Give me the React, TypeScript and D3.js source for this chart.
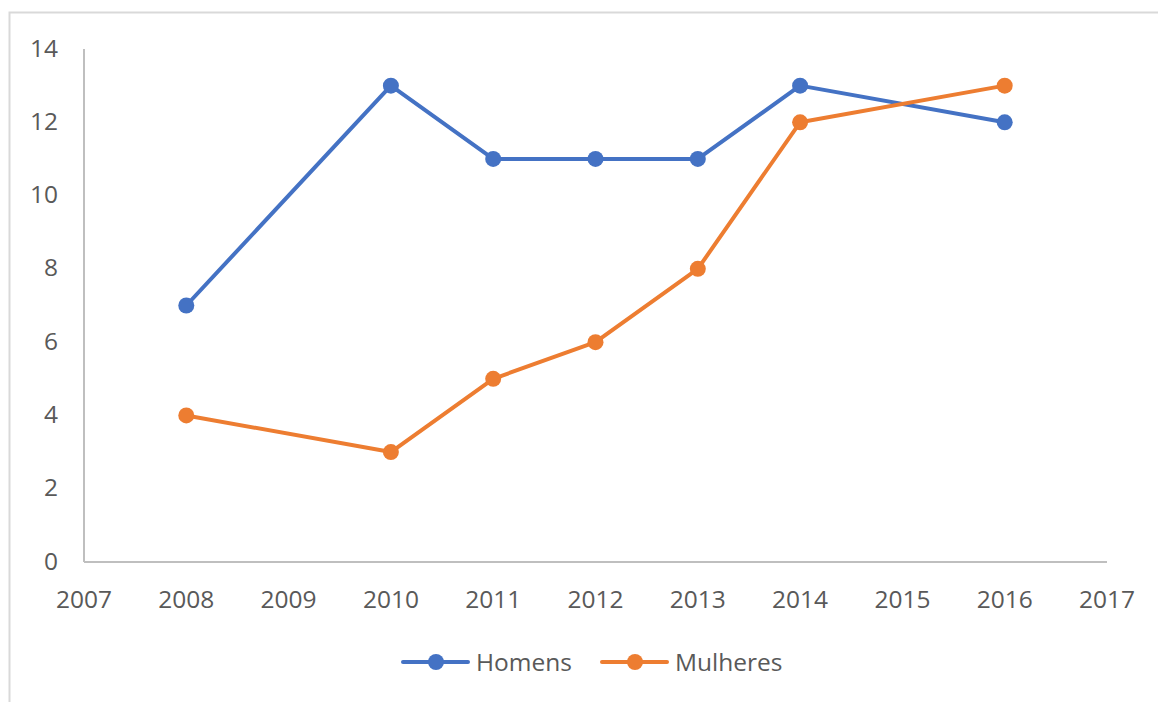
import React from 'react';
import * as d3 from 'd3';

const years = [2008, 2010, 2011, 2012, 2013, 2014, 2016];
const homens = [7, 13, 11, 11, 11, 13, 12];
const mulheres = [4, 3, 5, 6, 8, 12, 13];
const xTicks = d3.range(2007, 2018);
const yTicks = [0, 2, 4, 6, 8, 10, 12, 14];

const series = [
  { name: 'Homens', values: homens, color: '#4472C4' },
  { name: 'Mulheres', values: mulheres, color: '#ED7D31' },
];

export default function App() {
  const width = 1158;
  const height = 702;
  const margin = { left: 84, right: 51, top: 49, bottom: 140 };

  const x = d3.scaleLinear().domain([2007, 2017]).range([margin.left, width - margin.right]);
  const y = d3.scaleLinear().domain([0, 14]).range([height - margin.bottom, margin.top]);

  const line = d3
    .line<number>()
    .x((d, i) => x(years[i]))
    .y((d) => y(d));

  const font = '"Open Sans", sans-serif';
  const fs = 24.5;

  return (
    <svg
      width={width}
      height={height}
      style={{ position: 'absolute', left: 0, top: 0, background: '#fff' }}
    >
      <rect x={9.5} y={12.5} width={1200} height={760} fill="#fff" stroke="#d9d9d9" strokeWidth={2} />

      <line x1={x(2007)} x2={x(2007)} y1={y(14)} y2={y(0)} stroke="#bfbfbf" strokeWidth={2} />
      <line x1={x(2007)} x2={x(2017)} y1={y(0)} y2={y(0)} stroke="#bfbfbf" strokeWidth={2} />

      {yTicks.map((t) => (
        <text
          key={t}
          x={58}
          y={y(t) - 1}
          dy="0.35em"
          textAnchor="end"
          fontFamily={font}
          fontSize={fs}
          fill="#595959"
        >
          {t}
        </text>
      ))}

      {xTicks.map((t) => (
        <text
          key={t}
          x={x(t)}
          y={599}
          dy="0.35em"
          textAnchor="middle"
          fontFamily={font}
          fontSize={fs}
          fill="#595959"
        >
          {t}
        </text>
      ))}

      {series.map((s) => (
        <g key={s.name}>
          <path d={line(s.values) || ''} fill="none" stroke={s.color} strokeWidth={4} strokeLinejoin="round" />
          {s.values.map((v, i) => (
            <circle key={i} cx={x(years[i])} cy={y(v)} r={8} fill={s.color} />
          ))}
        </g>
      ))}

      {series.map((s, i) => {
        const lx = i === 0 ? 403 : 602;
        return (
          <g key={s.name} transform={`translate(${lx},662)`}>
            <line x1={0} x2={65} y1={0} y2={0} stroke={s.color} strokeWidth={4} strokeLinecap="round" />
            <circle cx={33} cy={0} r={8} fill={s.color} />
            <text x={73} y={0} dy="0.35em" fontFamily={font} fontSize={fs} fill="#595959">
              {s.name}
            </text>
          </g>
        );
      })}
    </svg>
  );
}
